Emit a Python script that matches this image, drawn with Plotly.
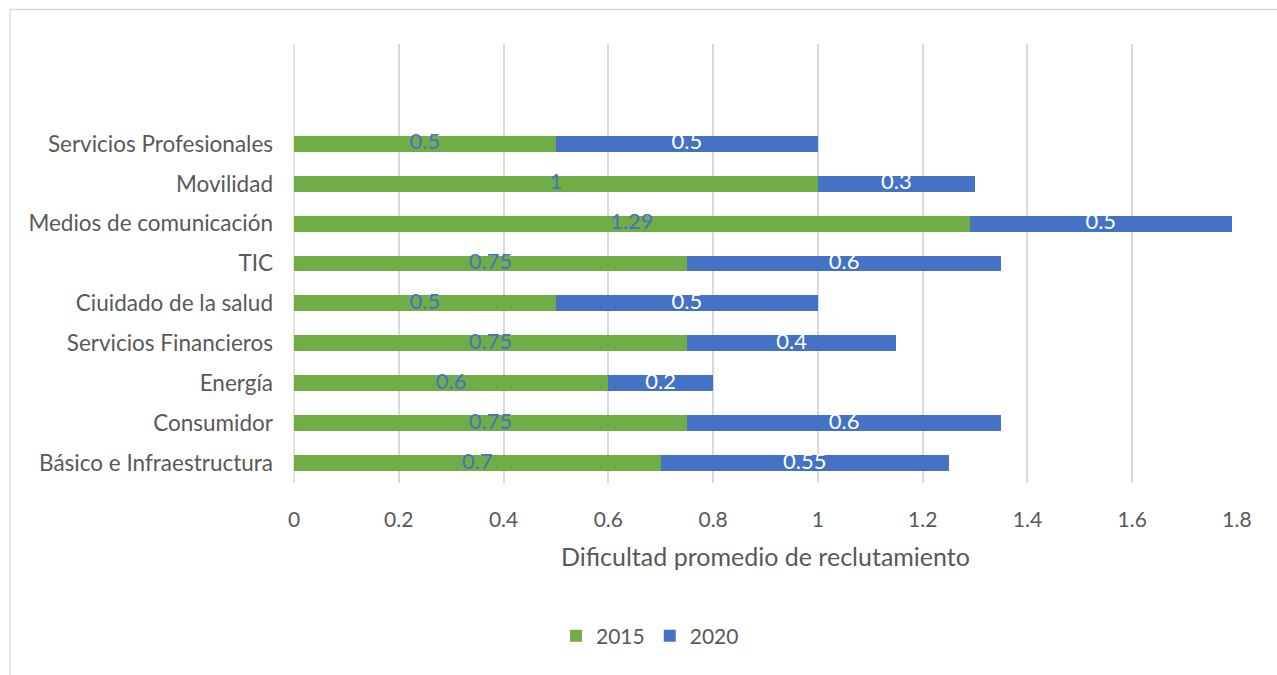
import plotly.graph_objects as go

categories = ["Básico e Infraestructura", "Consumidor", "Energía", "Servicios Financieros",
              "Ciuidado de la salud", "TIC", "Medios de comunicación", "Movilidad",
              "Servicios Profesionales"]
v2015 = [0.7, 0.75, 0.6, 0.75, 0.5, 0.75, 1.29, 1, 0.5]
v2020 = [0.55, 0.6, 0.2, 0.4, 0.5, 0.6, 0.5, 0.3, 0.5]
xticks = [0, 0.2, 0.4, 0.6, 0.8, 1, 1.2, 1.4, 1.6, 1.8]
xtick_labels = ["0", "0.2", "0.4", "0.6", "0.8", "1", "1.2", "1.4", "1.6", "1.8"]

GREEN = "#70AD47"
BLUE = "#4472C4"
FONT = "Lato"

fig = go.Figure()
fig.add_trace(go.Bar(y=categories, x=v2015, name="2015", orientation="h",
                     marker=dict(color=GREEN, line=dict(width=0)), width=0.4))
fig.add_trace(go.Bar(y=categories, x=v2020, name="2020", orientation="h",
                     marker=dict(color=BLUE, line=dict(width=0)), width=0.4))

# data labels
fig.add_trace(go.Scatter(y=categories, x=[v / 2 for v in v2015], mode="text",
                         text=[str(v) for v in v2015], textposition="middle center",
                         textfont=dict(family=FONT, size=22, color=BLUE),
                         showlegend=False, hoverinfo="skip"))
fig.add_trace(go.Scatter(y=categories, x=[a + b / 2 for a, b in zip(v2015, v2020)], mode="text",
                         text=[str(v) for v in v2020], textposition="middle center",
                         textfont=dict(family=FONT, size=22, color="white"),
                         showlegend=False, hoverinfo="skip"))

L, R, T, B = 294, 40, 44, 192
W, H = 1277, 675
pw = W - L - R
ph = H - T - B

def px2x(px):
    return (px - L) / pw

def py2y(py):
    return (H - B - py) / ph

fig.update_layout(
    width=W, height=H,
    margin=dict(l=L, r=R, t=T, b=B),
    barmode="stack",
    plot_bgcolor="white", paper_bgcolor="white",
    font=dict(family=FONT, size=21, color="#595959"),
    showlegend=True,
    legend=dict(orientation="h", x=px2x(650), y=py2y(636), xanchor="center", yanchor="middle",
                font=dict(family=FONT, size=21, color="#595959"), traceorder="normal",
                itemwidth=30),
    xaxis=dict(range=[0, 1.8], tickvals=xticks, ticktext=xtick_labels,
               showgrid=True, gridcolor="#D9D9D9", gridwidth=1.5, zeroline=False,
               showline=False, ticks="", ticklabelstandoff=22,
               tickfont=dict(family=FONT, size=21, color="#595959")),
    yaxis=dict(range=[-0.5, 10.5], showgrid=False, zeroline=False, showline=False,
               ticks="", ticklabelstandoff=20,
               tickfont=dict(family=FONT, size=22.5, color="#595959")),
    annotations=[dict(text="Dificultad promedio de reclutamiento", xref="paper", yref="paper",
                      x=0.5, y=py2y(556), xanchor="center", yanchor="middle", showarrow=False,
                      font=dict(family=FONT, size=25, color="#595959"))],
    shapes=[
        dict(type="line", xref="paper", yref="paper", x0=0, x1=0, y0=0, y1=1,
             line=dict(color="#D9D9D9", width=1.5), layer="below"),
        dict(type="rect", xref="paper", yref="paper", x0=px2x(10), x1=px2x(1300),
             y0=py2y(700), y1=py2y(9.5), line=dict(color="#D9D9D9", width=1.3),
             fillcolor="rgba(0,0,0,0)", layer="below"),
    ],
)

fig.write_html("out.html")
